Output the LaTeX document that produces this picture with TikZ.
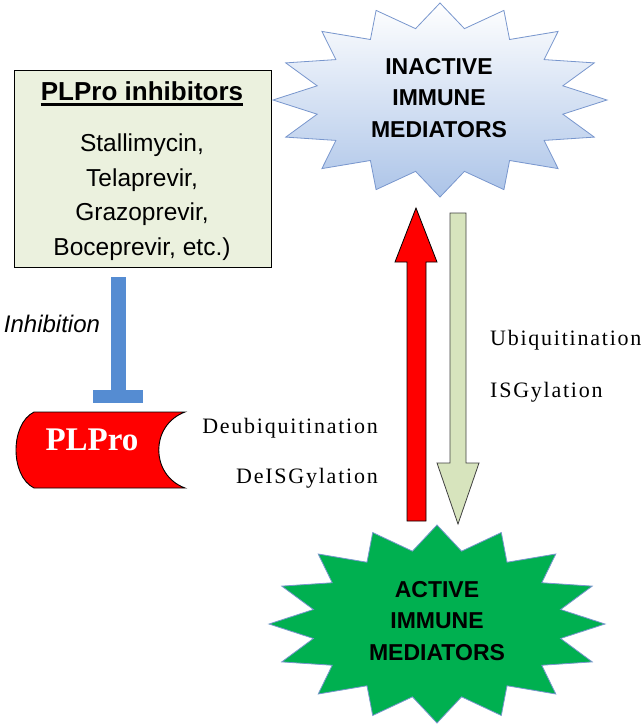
\documentclass[tikz,border=0pt]{standalone}
\usepackage{fontspec}
\setmainfont{Liberation Serif}
\setsansfont{Liberation Sans}
\newfontfamily\serifsp[LetterSpace=8]{Liberation Serif}
\definecolor{boxfill}{RGB}{235,241,222}
\definecolor{inhblue}{RGB}{85,140,210}
\definecolor{starblue}{RGB}{172,196,232}
\definecolor{starline}{RGB}{120,150,205}
\definecolor{actgreen}{RGB}{0,176,80}
\definecolor{paleg}{RGB}{215,228,189}
\begin{document}
\begin{tikzpicture}[x=1pt,y=-1pt,
  inhbox/.style={draw=black, line width=0.8pt, fill=boxfill, minimum width=257pt, minimum height=197pt, inner sep=0pt},
  sanstxt/.style={font=\sffamily\fontsize{24.5}{34.5}\selectfont, align=center, inner sep=0pt},
  startxt/.style={font=\sffamily\bfseries\fontsize{23}{31.5}\selectfont, align=center, inner sep=0pt},
  sertxt/.style={font=\serifsp\fontsize{22}{26}\selectfont, inner sep=0pt},
  blockarrow/.style={draw=black, line width=0.8pt, line join=miter}]
\useasboundingbox (0,0) rectangle (644,726);

% inhibitor box
\node[inhbox] (inh) at (142.5,168.5) {};
\node[font=\sffamily\bfseries\fontsize{26}{30}\selectfont, inner sep=0pt, anchor=base] (title) at (142,100) {PLPro inhibitors};
\draw[line width=2.6pt] ([yshift=-4.5pt]title.base west) -- ([yshift=-4.5pt]title.base east);
\node[sanstxt] (list) at (142,197) {Stallimycin,\\Telaprevir,\\Grazoprevir,\\Boceprevir, etc.)};

% inhibition T-bar
\coordinate (tstart) at (118.5,277);
\coordinate (tjoin) at (118.5,391);
\draw[inhblue, line width=15pt] (tstart) -- (tjoin);
\fill[inhblue] (93,390) rectangle (143,403);
\node[font=\sffamily\itshape\fontsize{24}{28}\selectfont, inner sep=0pt] (inhlab) at (52,324) {Inhibition};

% PLPro shape
\filldraw[fill=red, draw=black, line width=0.9pt]
  (34,412) -- (185,412) .. controls (150,425) and (150,475) .. (185,488)
  -- (34,488) .. controls (10,476) and (10,424) .. (34,412) -- cycle;
\node[font=\rmfamily\bfseries\fontsize{33}{36}\selectfont, text=white, inner sep=0pt] (plpro) at (92,440) {PLPro};

\node[sertxt, anchor=base east] (deub) at (378,433) {Deubiquitination};
\node[sertxt, anchor=base east] (deisg) at (378,483) {DeISGylation};
\node[sertxt, anchor=base west] (ubiq) at (490,345) {Ubiquitination};
\node[sertxt, anchor=base west] (isg) at (490,397) {ISGylation};

% inactive starburst
\shade[top color=white, bottom color=starblue, draw=starline, line width=0.8pt]
  plot[samples at={0,...,31}] ({440+167*(1-0.25*mod(\x,2))*cos(90+11.25*\x)},{100-97*(1-0.25*mod(\x,2))*sin(90+11.25*\x)}) -- cycle;
\node[startxt] (inactive) at (439,98) {INACTIVE\\IMMUNE\\MEDIATORS};

% active starburst
\filldraw[fill=actgreen, draw=starline, line width=0.8pt]
  plot[samples at={0,...,31}] ({437+168*(1-0.25*mod(\x,2))*cos(90+11.25*\x)},{624-99*(1-0.25*mod(\x,2))*sin(90+11.25*\x)}) -- cycle;
\node[startxt] (active) at (437,621) {ACTIVE\\IMMUNE\\MEDIATORS};

% block arrows
\filldraw[blockarrow, fill=red] (407,521) -- (407,262) -- (395,262) -- (416,208) -- (437,262) -- (426,262) -- (426,521) -- cycle;
\filldraw[blockarrow, fill=paleg, draw=black!75] (450,213) -- (466,213) -- (466,463) -- (479,463) -- (458,524) -- (437,463) -- (450,463) -- cycle;
\end{tikzpicture}
\end{document}
